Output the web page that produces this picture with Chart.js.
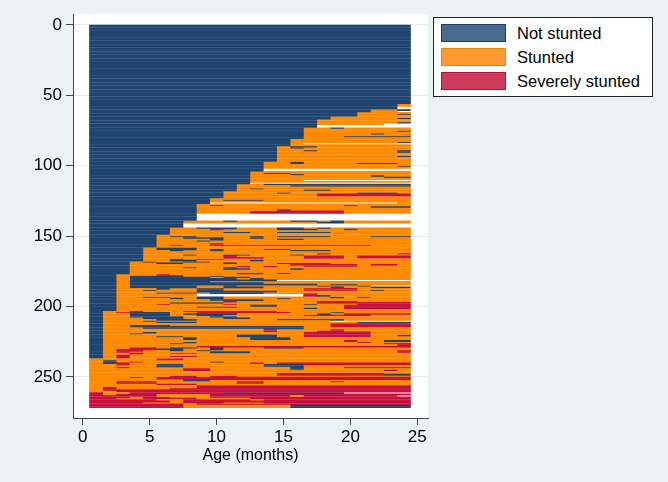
<!DOCTYPE html>
<html>
<head>
<meta charset="utf-8">
<script src="https://cdn.jsdelivr.net/npm/chart.js@4.4.1/dist/chart.umd.min.js"></script>
<style>
  html, body { margin: 0; padding: 0; background: #eaf2f3; }
  #wrap { position: relative; width: 668px; height: 482px; }
  #legend { position: absolute; left: 433px; top: 17px; width: 218px; height: 78px;
            border: 1px solid #222; background: #fff;
            font: 16.5px "Liberation Sans", Arial, sans-serif; color: #000; }
  .item { position: absolute; left: 7px; width: 205px; height: 18px; }
  .sw { position: absolute; left: 0; top: 0; width: 63px; height: 16px; border: 1px solid; }
  .lab { position: absolute; left: 76px; top: 0; line-height: 18px; white-space: nowrap; }
</style>
</head>
<body>
<div id="wrap">
  <canvas id="seqChart" width="668" height="482"></canvas>
  <div id="legend"></div>
</div>
<script>
// sequence index plot: one row per child, months 1-24

const months = [1, 2, 3, 4, 5, 6, 7, 8, 9, 10, 11, 12, 13, 14, 15, 16, 17, 18, 19, 20, 21, 22, 23, 24];
const stateCodes = ['N', 'S', 'V'];
const stateLabels = ['Not stunted', 'Stunted', 'Severely stunted'];
const xTicks = [0, 5, 10, 15, 20, 25];
const yTicks = [0, 50, 100, 150, 200, 250];

// colours: bars in the plot, legend fill, legend border
const barColors = { N: '#1f4470', S: '#ff8a00', V: '#c8103e' };
const keyFill = { N: '#486b8e', S: '#ff9a33', V: '#cd3a5c' };
const keyLine = { N: '#1f3d66', S: '#ee8400', V: '#b80f3c' };

// [number of rows, runs]  N = not stunted, S = stunted, V = severely stunted, . = missing
const sequences = [
  [56, 'N24'],
  [2, 'N23 S1'],
  [2, 'N23 .1'],
  [1, 'N21 S2 N1'],
  [1, 'N21 S2 .1'],
  [1, 'N20 S4'],
  [1, 'N20 S3 N1'],
  [1, 'N20 S4'],
  [1, 'N18 S6'],
  [1, 'N18 S5 N1'],
  [2, 'N17 S7'],
  [1, 'N17 S6 N1'],
  [1, 'N17 S5 .2'],
  [2, 'N17 .7'],
  [1, 'N16 S2 N1 S5'],
  [1, 'N16 S8'],
  [1, 'N16 S7 N1'],
  [1, 'N16 S8'],
  [1, 'N16 S5 N1 S2'],
  [1, 'N16 S8'],
  [1, 'N16 S3 N5'],
  [1, 'N16 S8'],
  [2, 'N15 S9'],
  [1, 'N15 S8 N1'],
  [1, 'N15 S1 .8'],
  [1, 'N15 S9'],
  [1, 'N14 S1 N2 S7'],
  [1, 'N14 S1 N1 S8'],
  [1, 'N14 S10'],
  [1, 'N14 S2 N1 S6 N1'],
  [1, 'N14 S9 N1'],
  [2, 'N14 S10'],
  [1, 'N14 S9 N1'],
  [3, 'N14 S10'],
  [1, 'N13 S2 N1 S8'],
  [1, 'N13 S2 N1 S4 N3 S1'],
  [1, 'N13 S11'],
  [1, 'N13 S10 N1'],
  [1, 'N13 S11'],
  [2, 'N13 .11'],
  [1, 'N12 S12'],
  [1, 'N12 S1 N2 S9'],
  [1, 'N12 S3 N1 S8'],
  [1, 'N12 S9 N1 S2'],
  [1, 'N12 S10 N2'],
  [1, 'N12 S12'],
  [1, 'N12 S4 .8'],
  [1, 'N12 S12'],
  [1, 'N12 .12'],
  [1, 'N11 S2 N11'],
  [1, 'N11 S4 N9'],
  [1, 'N11 S13'],
  [1, 'N11 S1 N1 S11'],
  [1, 'N11 S5 N2 S6'],
  [1, 'N10 S14'],
  [1, 'N10 S4 N1 S5 N3 S1'],
  [2, 'N10 S7 V7'],
  [1, 'N10 S14'],
  [1, 'N9 S15'],
  [1, 'N9 S1 N3 S11'],
  [1, 'N9 S15'],
  [1, 'N9 .14 S1'],
  [1, 'N8 S16'],
  [1, 'N8 S1 N1 S9 N1 S4'],
  [1, 'N8 S13 N3'],
  [1, 'N8 S16'],
  [1, 'N8 S6 N1 S9'],
  [2, 'N8 S4 V7 S5'],
  [5, 'N8 .16'],
  [1, 'N7 S3 N1 S4 N2 S1 N1 S5'],
  [1, 'N7 S10 N2 S5'],
  [3, 'N7 .17'],
  [1, 'N6 S2 N3 S3 N2 S1 N1 S6'],
  [1, 'N6 S3 V1 S4 N3 S2 N1 S4'],
  [1, 'N6 S18'],
  [1, 'N6 S4 N2 S2 N4 S6'],
  [1, 'N6 S18'],
  [1, 'N5 S19'],
  [1, 'N5 S1 N2 S4 N1 S1 N4 S3 N3'],
  [1, 'N5 S2 N3 S2 N1 S11'],
  [1, 'N5 S4 N1 S4 N2 S8'],
  [1, 'N5 S3 N1 S15'],
  [1, 'N5 S19'],
  [1, 'N5 S4 V1 S14'],
  [1, 'N5 S1 V1 S2 V12 S3'],
  [1, 'N5 S19'],
  [1, 'N4 S1 N3 S16'],
  [1, 'N4 S1 N3 S1 N1 S3 N2 S9'],
  [1, 'N4 S2 N1 S2 N1 S5 N3 S6'],
  [1, 'N4 S20'],
  [1, 'N4 S13 V1 S5 V1'],
  [1, 'N4 S3 N1 S2 N2 S3 N1 S8'],
  [1, 'N4 S6 V1 S5 V3 S1 V4'],
  [1, 'N4 S6 V3 S3 V3 S1 V4'],
  [1, 'N4 S2 V1 S1 V2 S14'],
  [1, 'N4 S2 N2 S4 N1 S11'],
  [1, 'N3 S1 N1 S2 N2 S15'],
  [1, 'N3 S2 N2 S3 N1 S3 N4 S6'],
  [1, 'N3 S12 V5 S1 V2 S1'],
  [1, 'N3 S8 V1 S1 V1 S2 V4 S4'],
  [1, 'N3 S4 N1 S2 N1 S13'],
  [1, 'N3 S7 N2 S3 N1 S8'],
  [2, 'N3 S21'],
  [1, 'N3 S8 N2 S1 N1 S9'],
  [1, 'N2 S3 V1 S18'],
  [1, 'N2 S1 N4 S2 N1 S14'],
  [1, 'N2 S1 N6 S1 N2 S12'],
  [1, 'N2 S1 N8 S1 N1 S11'],
  [1, 'N2 S1 N11 .10'],
  [1, 'N2 S1 N6 S15'],
  [1, 'N2 S1 N10 S11'],
  [1, 'N2 S1 N14 S1 N2 S4'],
  [1, 'N2 S1 N5 S2 N1 S6 N1 S2 N1 .3'],
  [1, 'N2 S1 N5 S2 N3 S5 N1 S2 N3'],
  [1, 'N2 S3 N1 S2 N2 S6 V4 S4'],
  [1, 'N2 S2 N1 S3 N2 S6 V4 S1 N1 S2'],
  [1, 'N2 S6 N6 S10'],
  [1, 'N2 S3 N3 S1 N4 S11'],
  [1, 'N2 S6 .8 V1 S7'],
  [1, 'N2 S6 .8 V1 N1 S6'],
  [1, 'N2 S2 N2 S2 N2 S8 N1 S1 N1 S3'],
  [1, 'N2 S4 N1 S1 N2 S4 N1 S9'],
  [1, 'N2 S7 N4 S11'],
  [1, 'N2 S8 V1 S6 V3 S4'],
  [1, 'N2 S4 N4 S7 V7'],
  [1, 'N2 S3 V1 S4 V1 S5 N1 S3 V4'],
  [1, 'N2 S10 N2 S5 V5'],
  [1, 'N2 S6 N3 S8 V5'],
  [1, 'N2 S14 N1 S2 V5'],
  [1, 'N2 S22'],
  [1, 'N1 S2 V1 S3 V7 S10'],
  [1, 'N1 S1 V1 N3 S2 V7 S3 N1 S5'],
  [1, 'N1 S2 N3 S1 N4 S6 N1 S1 V5'],
  [1, 'N1 S2 N3 S2 N2 S6 V5 S3'],
  [1, 'N1 S2 N4 S2 N2 S13'],
  [1, 'N1 S3 N3 S3 N2 S12'],
  [1, 'N1 S4 N3 S6 N5 S5'],
  [1, 'N1 S3 N1 S13 .6'],
  [1, 'N1 S4 N3 S12 N4'],
  [1, 'N1 S17 V6'],
  [1, 'N1 S2 N3 S12 V6'],
  [1, 'N1 S2 N13 S2 V6'],
  [1, 'N1 S3 N12 S8'],
  [1, 'N1 S12 V1 S4 V1 S5'],
  [1, 'N1 S12 V1 S3 V2 S5'],
  [1, 'N1 S3 N1 S11 V5 S3'],
  [1, 'N1 S2 N1 S12 V5 S3'],
  [1, 'N1 S10 N3 S2 V5 S2 N1'],
  [1, 'N1 S4 N2 S4 N3 S2 V5 S3'],
  [2, 'N1 S6 N1 S4 N3 S9'],
  [1, 'N1 S18 V1 S2 N2'],
  [1, 'N1 S6 N1 S12 V1 S3'],
  [1, 'N1 S5 N1 S15 V2'],
  [1, 'N1 S22 V1'],
  [1, 'N1 S7 V16'],
  [1, 'N1 S2 V2 S1 N2 S1 N1 S3 N3 S8'],
  [1, 'N1 S1 V3 N2 S2 N1 S14'],
  [1, 'N1 S1 V2 S2 N1 S1 N1 S14 V1'],
  [1, 'N1 S1 V1 S6 N3 S11 V1'],
  [1, 'N1 S2 V1 S2 V2 S16'],
  [1, 'N1 S1 V1 S21'],
  [1, 'N1 S1 V1 S3 V2 S16'],
  [1, 'N1 S1 V1 S21'],
  [1, 'S5 V2 S17'],
  [1, 'S1 N1 S22'],
  [1, 'S1 N1 S1 V1 S5 N1 S14'],
  [1, 'S1 N1 V1 S9 V1 S1 V10'],
  [1, 'S2 V1 S2 N2 S6 N3 V8'],
  [1, 'S5 N2 S6 N3 S8'],
  [1, 'S2 N1 S12 N1 S3 N5'],
  [1, 'S7 V2 S6 N1 S8'],
  [1, 'S7 V2 S13 V1 S1'],
  [1, 'S24'],
  [1, 'S14 V8 S2'],
  [1, 'S14 V8 N2'],
  [1, 'S6 V2 S1 V2 S13'],
  [1, 'S3 V1 S1 V19'],
  [1, 'S5 V19'],
  [1, 'S7 N2 S15'],
  [1, 'S2 V3 S6 V2 S5 V1 S5'],
  [1, 'S2 V3 S6 V2 S11'],
  [1, 'S5 V3 S16'],
  [1, 'S8 V16'],
  [1, 'S1 V1 S6 V16'],
  [1, 'S1 V1 S4 V18'],
  [1, 'S1 V23'],
  [1, 'S2 V22'],
  [1, 'V1 S2 V7 N9 .5'],
  [1, 'V1 S1 V3 S4 V15'],
  [1, 'V5 S4 V6 S1 V7 .1'],
  [1, 'V3 S1 V2 S3 V15'],
  [1, 'V2 S2 V4 S4 V12'],
  [1, 'V5 S2 V5 S1 V11'],
  [1, 'V6 S1 V17'],
  [1, 'V4 S3 V3 S3 V11'],
  [1, 'V7 S1 V16'],
  [2, 'V7 S8 N9']
];

// expand the runs into one list of spells per row
const rows = [];
sequences.forEach(([count, rle]) => {
  const spells = [];
  let m = 0;
  rle.split(' ').forEach(tok => {
    const code = tok[0];
    const len = parseInt(tok.slice(1), 10);
    if (code !== '.') {
      spells.push({ code, first: months[m], last: months[m + len - 1] });
    }
    m += len;
  });
  for (let i = 0; i < count; i++) rows.push(spells);
});

// one dataset per spell position, floating horizontal bars
const maxSpells = Math.max(...rows.map(r => r.length));
const datasets = [];
for (let k = 0; k < maxSpells; k++) {
  const data = [];
  const colors = [];
  rows.forEach((spells, r) => {
    const sp = spells[k];
    if (!sp) return;
    data.push({ y: r + 0.5, x: [sp.first - 0.5, sp.last + 0.5] });
    colors.push(barColors[sp.code]);
  });
  datasets.push({
    data,
    backgroundColor: colors,
    borderWidth: 0,
    inflateAmount: 0.2,
    barPercentage: 1,
    categoryPercentage: 1,
    grouped: false
  });
}

// backgrounds: graph region light blue, plot region white
const bgPlugin = {
  id: 'bg',
  beforeDraw(chart) {
    const { ctx, chartArea: a } = chart;
    ctx.save();
    ctx.fillStyle = '#eaf2f3';
    ctx.fillRect(0, 0, chart.width, chart.height);
    ctx.fillStyle = '#ffffff';
    ctx.fillRect(a.left, a.top, a.right - a.left, a.bottom - a.top);
    ctx.restore();
  }
};

const fontFamily = '"Liberation Sans", Arial, Helvetica, sans-serif';
Chart.defaults.color = '#000';
Chart.defaults.font.family = fontFamily;

const ctx = document.getElementById('seqChart').getContext('2d');
new Chart(ctx, {
  type: 'bar',
  data: { datasets },
  options: {
    indexAxis: 'y',
    responsive: false,
    animation: false,
    events: [],
    layout: { padding: { left: 0, right: 240, top: 12, bottom: 0 } },
    plugins: { legend: { display: false }, tooltip: { enabled: false } },
    scales: {
      x: {
        type: 'linear',
        min: -0.725,
        max: 25.8,
        afterBuildTicks: s => { s.ticks = xTicks.map(v => ({ value: v })); },
        afterFit: s => { s.height = 64; },
        ticks: { font: { size: 17 }, padding: 2, maxRotation: 0 },
        grid: { drawOnChartArea: false, tickLength: 7, tickColor: '#444' },
        border: { color: '#444', width: 1 },
        title: { display: true, text: 'Age (months)', font: { size: 16 }, padding: { top: 0, bottom: 17 } }
      },
      y: {
        type: 'linear',
        reverse: true,
        offset: false,
        min: -7.56,
        max: 279.2,
        afterBuildTicks: s => { s.ticks = yTicks.map(v => ({ value: v })); },
        afterFit: s => { s.width = 73; },
        ticks: { font: { size: 17 }, padding: 4 },
        grid: { offset: false, color: '#e3eced', tickLength: 7, tickColor: '#444' },
        border: { color: '#444', width: 1 }
      }
    }
  },
  plugins: [bgPlugin]
});

// legend box
const legend = document.getElementById('legend');
stateCodes.forEach((code, i) => {
  const item = document.createElement('div');
  item.className = 'item';
  item.style.top = (6 + i * 24.2) + 'px';
  const sw = document.createElement('div');
  sw.className = 'sw';
  sw.style.background = keyFill[code];
  sw.style.borderColor = keyLine[code];
  const lab = document.createElement('div');
  lab.className = 'lab';
  lab.textContent = stateLabels[i];
  item.appendChild(sw);
  item.appendChild(lab);
  legend.appendChild(item);
});
</script>
</body>
</html>
